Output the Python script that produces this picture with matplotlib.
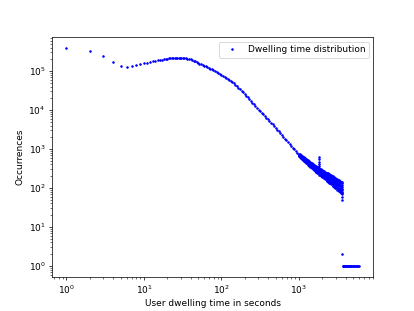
import matplotlib
matplotlib.use("Agg")
import matplotlib.pyplot as plt

# early integer seconds and rise to the peak
head_x = [1, 2, 3, 4, 5, 6, 7, 8, 9, 10, 11, 12, 13, 14, 15, 16, 17, 18, 19, 20,
          21, 22, 23, 24, 25, 26, 27, 28, 29]
head_y = [3.9e5, 3.29e5, 2.39e5, 1.68e5, 1.38e5, 1.30e5, 1.33e5, 1.41e5, 1.49e5, 1.58e5,
          1.65e5, 1.72e5, 1.78e5, 1.83e5, 1.88e5, 1.93e5, 1.97e5, 2.01e5, 2.05e5, 2.09e5,
          2.12e5, 2.15e5, 2.17e5, 2.19e5, 2.20e5, 2.20e5, 2.20e5, 2.20e5, 2.19e5]

# smooth decaying body
body_x = [30, 32, 33, 35, 36, 38, 40, 42, 44, 46, 48, 50, 52, 55, 58, 60, 63, 66, 69, 72,
          76, 79, 83, 87, 91, 95, 100, 105, 110, 115, 120, 126, 132, 138, 145, 151, 158,
          166, 174, 182, 191, 200, 209, 219, 229, 240, 251, 263, 275, 288, 302, 316, 331,
          347, 363, 380, 398, 417, 437, 457, 479, 501, 525, 550, 575, 603, 631, 661, 692,
          724, 759, 794, 832, 871, 912, 955, 1000]
body_y = [2.18e5, 2.16e5, 2.14e5, 2.11e5, 2.08e5, 2.04e5, 2.00e5, 1.93e5, 1.86e5, 1.78e5,
          1.70e5, 1.62e5, 1.56e5, 1.49e5, 1.43e5, 1.37e5, 1.32e5, 1.26e5, 1.20e5, 1.15e5,
          1.10e5, 1.05e5, 9.95e4, 9.46e4, 8.99e4, 8.55e4, 8.13e4, 7.66e4, 7.21e4, 6.79e4,
          6.40e4, 6.03e4, 5.60e4, 5.20e4, 4.83e4, 4.49e4, 4.17e4, 3.78e4, 3.44e4, 3.12e4,
          2.83e4, 2.57e4, 2.32e4, 2.10e4, 1.90e4, 1.71e4, 1.55e4, 1.40e4, 1.26e4, 1.14e4,
          1.03e4, 9.33e3, 8.47e3, 7.69e3, 6.98e3, 6.34e3, 5.75e3, 5.20e3, 4.70e3, 4.25e3,
          3.84e3, 3.47e3, 3.12e3, 2.81e3, 2.52e3, 2.27e3, 2.04e3, 1.84e3, 1.65e3, 1.49e3,
          1.34e3, 1.20e3, 1.08e3, 973, 875, 787, 708]

# noisy tail (centre, upper and lower edge of the band)
tail_x = [1010, 1025, 1040, 1055, 1070, 1085, 1100, 1120, 1140, 1160, 1180, 1200, 1220,
          1245, 1270, 1295, 1320, 1345, 1370, 1400, 1430, 1460, 1490, 1520, 1550, 1580,
          1615, 1650, 1685, 1720, 1760, 1840, 1880, 1920, 1960, 2000, 2045, 2090, 2135,
          2180, 2230, 2280, 2330, 2380, 2430, 2480, 2540, 2600, 2660, 2720, 2780, 2840,
          2900, 2970, 3040, 3110, 3180, 3250, 3320, 3400, 3480, 3550, 3600]
tail_mid = [697, 678, 662, 647, 632, 617, 603, 584, 566, 551, 534, 520, 506, 489, 472, 458,
            443, 430, 418, 404, 391, 378, 366, 354, 344, 333, 323, 313, 303, 295, 286, 268,
            261, 253, 246, 239, 232, 225, 218, 212, 206, 199, 193, 187, 182, 177, 171, 166,
            160, 155, 151, 146, 142, 137, 133, 129, 125, 121, 117, 114, 110, 107, 105]
tail_hi = [740, 722, 705, 698, 676, 664, 652, 640, 618, 606, 588, 580, 558, 548, 526, 515,
           496, 490, 470, 462, 444, 438, 418, 412, 396, 392, 374, 370, 352, 350, 336, 322,
           308, 306, 292, 292, 276, 276, 262, 263, 248, 249, 236, 236, 224, 224, 210, 212,
           200, 200, 190, 190, 180, 180, 170, 172, 162, 162, 152, 154, 146, 146, 138]
tail_lo = [660, 640, 622, 600, 594, 570, 560, 535, 522, 500, 490, 468, 460, 436, 428, 405,
           398, 378, 372, 352, 346, 326, 322, 303, 300, 282, 280, 262, 258, 244, 242, 219,
           218, 205, 204, 192, 190, 178, 178, 166, 166, 154, 155, 143, 144, 134, 134, 124,
           124, 114, 115, 106, 107, 98, 99, 90, 92, 84, 84, 77, 78, 72, 72]

# second pass of tail points, between the first ones
tail2_x = [1018, 1032, 1048, 1062, 1078, 1092, 1110, 1130, 1150, 1170, 1190, 1210, 1232,
           1258, 1282, 1308, 1332, 1358, 1385, 1415, 1445, 1475, 1505, 1535, 1565, 1598,
           1632, 1668, 1702, 1740, 1810, 1860, 1900, 1940, 1980, 2022, 2068, 2112, 2158,
           2205, 2255, 2305, 2355, 2405, 2455, 2510, 2570, 2630, 2690, 2750, 2810, 2870,
           2935, 3005, 3075, 3145, 3215, 3285, 3360, 3440, 3515, 3575]
tail2_up = [712, 690, 684, 664, 655, 634, 626, 600, 592, 568, 560, 538, 531, 506, 498, 476,
            470, 449, 444, 422, 418, 397, 394, 374, 372, 352, 350, 331, 331, 314, 308, 286,
            288, 272, 272, 258, 258, 243, 244, 230, 231, 217, 218, 204, 206, 194, 195, 183,
            183, 172, 173, 163, 164, 153, 155, 145, 147, 137, 139, 130, 131, 122]
tail2_dn = [666, 652, 630, 619, 600, 588, 568, 552, 531, 519, 499, 488, 469, 456, 437, 426,
            408, 400, 383, 373, 356, 348, 332, 325, 311, 304, 290, 284, 271, 267, 250, 242,
            230, 227, 216, 214, 203, 200, 190, 188, 178, 176, 166, 164, 156, 154, 145, 144,
            135, 134, 126, 126, 118, 117, 110, 110, 102, 102, 95, 94, 88, 89]

# spike at 30 minutes and the column at one hour
spike_x = [1800, 1800, 1800, 1800, 1800]
spike_y = [624, 546, 466, 406, 355]
cap_x = [3600, 3600, 3600, 3600, 3600, 3600]
cap_y = [130, 92, 80, 68, 58, 49]

# rare sessions longer than one hour
rare_x = [3610, 3660, 3720, 3780, 3850, 3920, 3990, 4060, 4140, 4220, 4300, 4390, 4480,
          4570, 4670, 4770, 4870, 4980, 5090, 5200, 5320, 5440, 5560, 5690, 5820, 5950]
rare_y = [2, 1, 1, 1, 1, 1, 1, 1, 1, 1, 1, 1, 1, 1, 1, 1, 1, 1, 1, 1, 1, 1, 1, 1, 1, 1]

xs = (head_x + body_x + tail_x + tail_x + tail_x + tail2_x + tail2_x
      + spike_x + cap_x + rare_x)
ys = (head_y + body_y + tail_mid + tail_hi + tail_lo + tail2_up + tail2_dn
      + spike_y + cap_y + rare_y)

fig = plt.figure(figsize=(6.4, 4.8), dpi=64.84)
ax = fig.add_subplot(111)
ax.loglog(xs, ys, 'b.', markersize=3.5, label='Dwelling time distribution')
ax.set_xlabel('User dwelling time in seconds')
ax.set_ylabel('Occurrences')
ax.legend(loc='upper right')
fig.savefig('out.png', dpi=64.84)
